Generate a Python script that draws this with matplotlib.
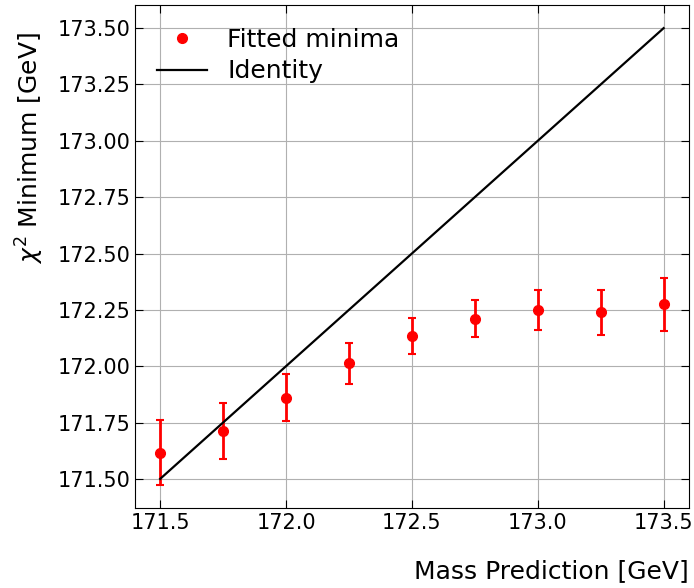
import numpy as np
import matplotlib
matplotlib.use("Agg")
import matplotlib.pyplot as plt

# mass predictions and fitted chi2 minima
mass_pred = [171.5, 171.75, 172.0, 172.25, 172.5, 172.75, 173.0, 173.25, 173.5]
fit_min = [171.617, 171.713, 171.861, 172.012, 172.134, 172.211, 172.25, 172.24, 172.275]
fit_err = [0.145, 0.123, 0.104, 0.09, 0.081, 0.083, 0.09, 0.10, 0.118]

xticks = [171.5, 172.0, 172.5, 173.0, 173.5]
yticks = [171.5, 171.75, 172.0, 172.25, 172.5, 172.75, 173.0, 173.25, 173.5]

plt.rcParams['font.size'] = 15

fig = plt.figure(figsize=(6.94, 5.88), dpi=100)
ax = fig.add_axes([0.1945, 0.136, 0.798, 0.855])

eb = ax.errorbar(mass_pred, fit_min, yerr=fit_err, fmt='o', color='red',
                 capsize=3, elinewidth=2, capthick=1.5, markersize=7)
line, = ax.plot(mass_pred, mass_pred, color='black', lw=1.6)

ax.set_xticks(xticks)
ax.set_yticks(yticks)
ax.set_xticklabels(['%.1f' % v for v in xticks])
ax.set_yticklabels(['%.2f' % v for v in yticks])
ax.tick_params(direction='in', top=True, right=True, length=6, labelsize=15)
ax.grid(True)

ax.set_xlabel('Mass Prediction [GeV]', loc='right', fontsize=18, labelpad=19)
ax.set_ylabel(r'$\chi^2$ Minimum [GeV]', loc='top', fontsize=18, labelpad=8)
ax.yaxis.label.set_y(0.946)

# legend handle for errorbar shown as plain marker
ax.legend([eb[0], line], ['Fitted minima', 'Identity'], loc='upper left',
          frameon=False, fontsize=18, labelspacing=0.3)

fig.savefig('out.png', dpi=100)
